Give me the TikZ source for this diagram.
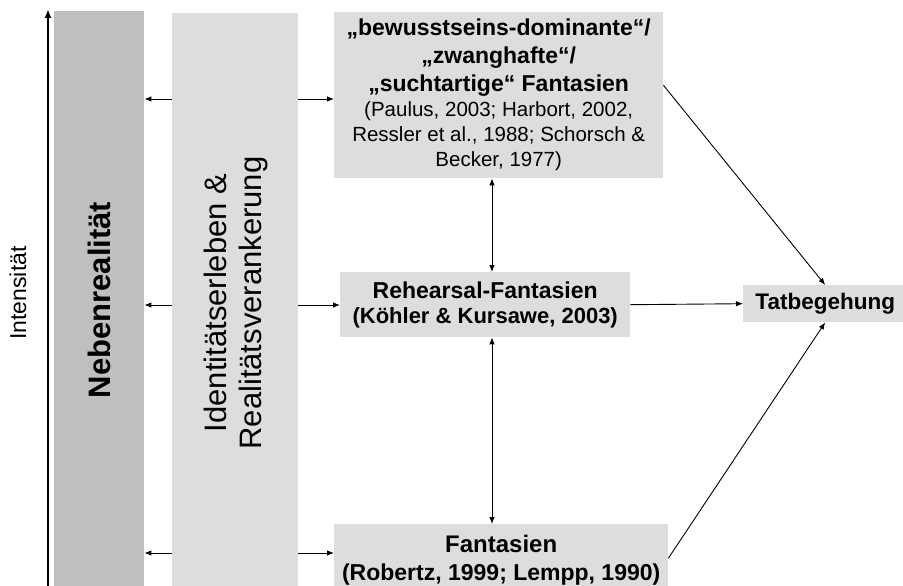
\documentclass[tikz,border=0pt]{standalone}
\usepackage{fontspec}
\setmainfont{Liberation Sans}
\usetikzlibrary{arrows.meta,positioning}

\definecolor{bargray}{HTML}{BFBFBF}
\definecolor{boxgray}{HTML}{DDDDDD}

\newcommand{\ttlfont}{\fontsize{23}{28}\selectfont\bfseries}
\newcommand{\reffont}{\fontsize{20.5}{25}\selectfont}

\begin{document}
\begin{tikzpicture}[x=1pt, y=-1pt, >={Latex[length=7pt,width=5.5pt]},
    box/.style={fill=boxgray, inner sep=0pt, align=center, anchor=north west},
    bar/.style={inner sep=0pt, anchor=north west, minimum height=600pt},
    link/.style={->, line width=0.9pt},
    twoway/.style={<->, line width=0.9pt}]

    \useasboundingbox (0,0) rectangle (903,586);
    \clip (0,0) rectangle (903,586);

    % =========================================================================
    % INTENSITY AXIS
    % =========================================================================
    \coordinate (axisbot) at (48,590);
    \coordinate (axistop) at (48,9);
    \draw[-{Latex[length=9pt,width=7pt]}, line width=2.2pt] (axisbot) -- (axistop);
    \node[rotate=90, font=\fontsize{23}{27}\selectfont] (intens) at (18,293) {Intensität};

    % =========================================================================
    % BACKGROUND BARS
    % =========================================================================
    \node[bar, fill=bargray, minimum width=90pt] (neben) at (54,11) {};
    \node[rotate=90, font=\fontsize{31}{35}\selectfont\bfseries] (nebentxt) at (99,300) {Nebenrealität};

    \node[bar, fill=boxgray, minimum width=126pt] (ident) at (172,13) {};
    \node[rotate=90, align=center, font=\fontsize{31}{35}\selectfont] (identtxt) at (236,303)
        {Identitätserleben \&\\Realitätsverankerung};

    % =========================================================================
    % FANTASY BOXES
    % =========================================================================
    \node[box, minimum width=329pt, minimum height=166pt, font=\reffont] (sucht) at (334,12)
        {\ttlfont „bewusstseins-dominante“/\\[3pt]
         \ttlfont „zwanghafte“/\\[3pt]
         \ttlfont „suchtartige“ Fantasien\\
         (Paulus, 2003; Harbort, 2002,\\
         Ressler et al., 1988; Schorsch \&\\
         Becker, 1977)};

    \node[box, minimum width=290pt, minimum height=65pt, font=\fontsize{22}{25}\selectfont\bfseries] (rehearsal) at (340,272)
        {\ttlfont Rehearsal-Fantasien\\(Köhler \& Kursawe, 2003)};

    \node[box, minimum width=334pt, minimum height=72pt, font=\fontsize{23}{28}\selectfont\bfseries] (fant) at (334,524)
        {\fontsize{24}{28}\selectfont\bfseries Fantasien\\(Robertz, 1999; Lempp, 1990)};

    \node[box, minimum width=164pt, minimum height=37pt, font=\fontsize{22.5}{27}\selectfont\bfseries] (tat) at (743,285)
        {Tatbegehung};

    % =========================================================================
    % CONNECTORS
    % =========================================================================
    \coordinate (rowtop) at (0,99);
    \coordinate (rowmid) at (0,305);
    \coordinate (rowbot) at (0,553);
    \coordinate (vline) at (492,0);

    % --- out of the identity bar ---
    \foreach \row/\target in {rowtop/sucht, rowmid/rehearsal, rowbot/fant} {
        \draw[link] (ident.west |- \row) -- (neben.east |- \row);
        \draw[link] (ident.east |- \row) -- (\target.west |- \row);
    }

    % --- between the fantasy stages ---
    \draw[twoway] (sucht.south -| vline) -- (rehearsal.north -| vline);
    \draw[twoway] (rehearsal.south -| vline) -- (fant.north -| vline);

    % --- into the offence ---
    \draw[link] ([yshift=10pt]sucht.east) -- (tat.north);
    \draw[link] (rehearsal.east) -- (tat.west);
    \draw[link] ([yshift=2pt]fant.east) -- (tat.south);

\end{tikzpicture}
\end{document}
